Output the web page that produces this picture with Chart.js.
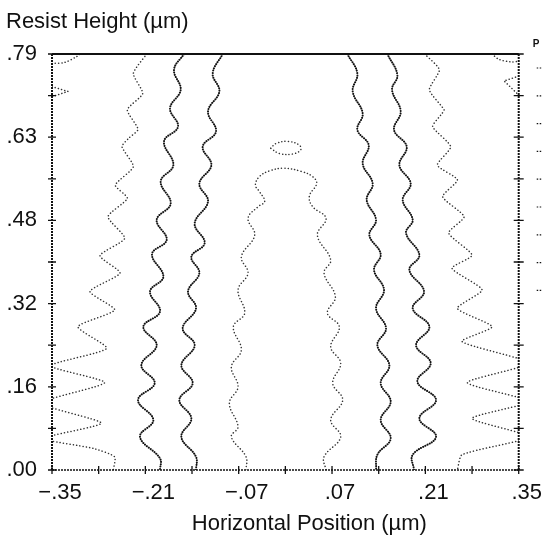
<!DOCTYPE html>
<html>
<head>
<meta charset="utf-8">
<script src="https://cdn.jsdelivr.net/npm/chart.js@4.4.1/dist/chart.umd.min.js"></script>
<style>
    html, body { margin: 0; padding: 0; background: #fff; }
</style>
</head>
<body>
<canvas id="myChart" width="544" height="541"></canvas>
<script>
// axis ticks (µm)
var xTickValues = [-0.35, -0.28, -0.21, -0.14, -0.07, 0, 0.07, 0.14, 0.21, 0.28, 0.35];
var xTickLabels = ['\u2212.35', '', '\u2212.21', '', '\u2212.07', '', '.07', '', '.21', '', '.35'];
var yTickValues = [0, 0.079, 0.158, 0.237, 0.316, 0.395, 0.474, 0.553, 0.632, 0.711, 0.79];
var yTickLabels = ['.00', '', '.16', '', '.32', '', '.48', '', '.63', '', '.79'];

// contour lines, [x, y] in µm
var cornerLeft = [[-0.35, 0.772], [-0.331, 0.774], [-0.313, 0.785], [-0.308, 0.79]];
var veeLeft = [[-0.35, 0.728], [-0.326, 0.719], [-0.35, 0.709]];
var contourA = [[-0.208, 0.79], [-0.228, 0.753], [-0.214, 0.715], [-0.237, 0.684], [-0.221, 0.647], [-0.235, 0.630],
    [-0.245, 0.614], [-0.228, 0.576], [-0.255, 0.541], [-0.237, 0.516], [-0.266, 0.481], [-0.241, 0.440], [-0.278, 0.407],
    [-0.248, 0.374], [-0.293, 0.339], [-0.256, 0.304], [-0.311, 0.272], [-0.268, 0.231], [-0.352, 0.198], [-0.271, 0.166],
    [-0.366, 0.127], [-0.276, 0.089], [-0.363, 0.060], [-0.288, 0.041], [-0.256, 0.025], [-0.258, 0]];
var contourB = [[-0.152, 0.79], [-0.167, 0.760], [-0.157, 0.722], [-0.173, 0.687], [-0.161, 0.652], [-0.182, 0.624],
    [-0.168, 0.579], [-0.187, 0.548], [-0.172, 0.506], [-0.193, 0.475], [-0.178, 0.437], [-0.200, 0.410], [-0.183, 0.367],
    [-0.203, 0.339], [-0.188, 0.301], [-0.213, 0.272], [-0.193, 0.237], [-0.216, 0.199], [-0.196, 0.165], [-0.221, 0.133],
    [-0.198, 0.095], [-0.218, 0.063], [-0.188, 0.022], [-0.188, 0]];
var contourC = [[-0.094, 0.79], [-0.109, 0.753], [-0.099, 0.719], [-0.116, 0.681], [-0.104, 0.643], [-0.124, 0.614],
    [-0.111, 0.579], [-0.129, 0.544], [-0.116, 0.510], [-0.136, 0.468], [-0.121, 0.431], [-0.141, 0.405], [-0.129, 0.374],
    [-0.146, 0.339], [-0.134, 0.307], [-0.154, 0.269], [-0.136, 0.237], [-0.156, 0.199], [-0.139, 0.165], [-0.159, 0.133],
    [-0.141, 0.098], [-0.156, 0.063], [-0.134, 0.025], [-0.134, 0]];
var contourDome = [[-0.059, 0], [-0.059, 0.025], [-0.081, 0.063], [-0.071, 0.082], [-0.084, 0.127], [-0.071, 0.158],
    [-0.081, 0.196], [-0.066, 0.228], [-0.078, 0.272], [-0.061, 0.298], [-0.071, 0.342], [-0.056, 0.374], [-0.066, 0.405],
    [-0.046, 0.446], [-0.056, 0.478], [-0.041, 0.500], [-0.031, 0.510], [-0.039, 0.529], [-0.045, 0.541], [-0.039, 0.557],
    [-0.024, 0.568], [-0.002, 0.573], [0.024, 0.567], [0.041, 0.557], [0.047, 0.544], [0.036, 0.520], [0.041, 0.500],
    [0.061, 0.478], [0.048, 0.446], [0.068, 0.399], [0.058, 0.374], [0.075, 0.329], [0.063, 0.298], [0.081, 0.272],
    [0.068, 0.234], [0.083, 0.203], [0.071, 0.165], [0.086, 0.133], [0.068, 0.095], [0.083, 0.063], [0.058, 0.025], [0.061, 0]];
var contourRing = [[-0.022, 0.611], [-0.014, 0.620], [0.004, 0.624], [0.021, 0.617], [0.023, 0.608], [0.011, 0.600],
    [-0.009, 0.601], [-0.022, 0.611]];
var contourF = [[0.093, 0.79], [0.108, 0.753], [0.101, 0.719], [0.116, 0.677], [0.108, 0.646], [0.125, 0.617],
    [0.116, 0.582], [0.131, 0.544], [0.122, 0.513], [0.136, 0.475], [0.126, 0.446], [0.143, 0.410], [0.133, 0.380],
    [0.148, 0.342], [0.136, 0.307], [0.151, 0.269], [0.138, 0.237], [0.156, 0.199], [0.143, 0.165], [0.158, 0.130],
    [0.143, 0.095], [0.158, 0.060], [0.138, 0.029], [0.136, 0]];
var contourG = [[0.153, 0.79], [0.168, 0.750], [0.160, 0.722], [0.173, 0.681], [0.163, 0.646], [0.182, 0.614],
    [0.171, 0.579], [0.188, 0.544], [0.176, 0.513], [0.191, 0.475], [0.181, 0.450], [0.201, 0.408], [0.186, 0.380],
    [0.208, 0.339], [0.191, 0.307], [0.216, 0.272], [0.196, 0.237], [0.218, 0.203], [0.198, 0.168], [0.226, 0.133],
    [0.201, 0.098], [0.226, 0.063], [0.191, 0.029], [0.193, 0]];
var contourH = [[0.209, 0.79], [0.231, 0.760], [0.216, 0.722], [0.238, 0.684], [0.233, 0.674], [0.221, 0.652],
    [0.248, 0.614], [0.228, 0.579], [0.258, 0.551], [0.236, 0.519], [0.268, 0.481], [0.245, 0.450], [0.280, 0.408],
    [0.250, 0.383], [0.295, 0.342], [0.258, 0.307], [0.310, 0.272], [0.265, 0.244], [0.365, 0.203], [0.273, 0.166],
    [0.365, 0.130], [0.280, 0.098], [0.365, 0.063], [0.265, 0.029], [0.258, 0]];
var cornerRight = [[0.310, 0.79], [0.320, 0.780], [0.338, 0.775], [0.35, 0.776]];
var veeRight = [[0.35, 0.748], [0.328, 0.739], [0.35, 0.712]];

function pts(arr) {
    return arr.map(function (p) { return { x: p[0], y: p[1] }; });
}
function darkLine(arr) {
    return { data: pts(arr), showLine: true, pointRadius: 0, borderColor: '#111', borderWidth: 2,
        borderDash: [0.1, 2.3], borderCapStyle: 'round', tension: 0.4 };
}
function lightLine(arr, t) {
    return { data: pts(arr), showLine: true, pointRadius: 0, borderColor: '#333', borderWidth: 1.5,
        borderDash: [0.1, 3.2], borderCapStyle: 'round', tension: t };
}

var FONT = '"Liberation Sans", Arial, sans-serif';

var framePlugin = {
    id: 'frame',
    afterDraw: function (chart) {
        var ctx = chart.ctx, a = chart.chartArea;
        var xs = chart.scales.x, ys = chart.scales.y;
        ctx.save();
        ctx.strokeStyle = '#111';
        ctx.lineWidth = 2;
        ctx.beginPath();
        ctx.moveTo(a.left, a.top); ctx.lineTo(a.right, a.top);
        ctx.stroke();
        ctx.setLineDash([2, 1]);
        ctx.beginPath();
        ctx.moveTo(a.left, a.top); ctx.lineTo(a.left, a.bottom);
        ctx.moveTo(a.right, a.top); ctx.lineTo(a.right, a.bottom);
        ctx.stroke();
        ctx.lineWidth = 1.6;
        ctx.beginPath();
        ctx.moveTo(a.left, a.bottom); ctx.lineTo(a.right, a.bottom);
        ctx.stroke();
        ctx.setLineDash([]);
        ctx.lineWidth = 1.3;
        ctx.beginPath();
        xTickValues.forEach(function (v) {
            var px = xs.getPixelForValue(v);
            ctx.moveTo(px, a.bottom - 4); ctx.lineTo(px, a.bottom + 4);
        });
        yTickValues.forEach(function (v) {
            var py = ys.getPixelForValue(v);
            ctx.moveTo(a.left - 4, py); ctx.lineTo(a.left + 4, py);
            ctx.moveTo(a.right - 5, py); ctx.lineTo(a.right + 5, py);
        });
        ctx.stroke();

        // axis titles
        ctx.fillStyle = '#111';
        ctx.font = '22px ' + FONT;
        ctx.textBaseline = 'middle';
        ctx.textAlign = 'left';
        ctx.fillText('Resist Height (\u00b5m)', 6, 22);
        ctx.textAlign = 'center';
        ctx.fillText('Horizontal Position (\u00b5m)', (a.left + a.right) / 2 + 24, 524);

        // cut-off legend at the right
        ctx.font = 'bold 10px ' + FONT;
        ctx.textAlign = 'left';
        ctx.fillText('P', a.right + 14, a.top - 10);
        ctx.lineWidth = 1.2;
        ctx.setLineDash([1.5, 1.5]);
        ctx.beginPath();
        for (var i = 0; i < 9; i++) {
            var ly = a.top + 14 + i * 27.8;
            ctx.moveTo(a.right + 18, ly); ctx.lineTo(a.right + 24, ly);
        }
        ctx.stroke();
        ctx.restore();
    }
};

var ctx = document.getElementById('myChart').getContext('2d');
var myChart = new Chart(ctx, {
    type: 'scatter',
    data: {
        datasets: [
            lightLine(cornerLeft, 0.3),
            lightLine(veeLeft, 0),
            lightLine(contourA, 0.2),
            darkLine(contourB),
            darkLine(contourC),
            lightLine(contourDome, 0.4),
            lightLine(contourRing, 0.4),
            darkLine(contourF),
            darkLine(contourG),
            lightLine(contourH, 0.2),
            lightLine(cornerRight, 0.3),
            lightLine(veeRight, 0)
        ]
    },
    options: {
        responsive: false,
        animation: false,
        layout: { padding: { left: 0, right: 24, top: 54, bottom: 0 } },
        plugins: {
            legend: { display: false },
            tooltip: { enabled: false },
            title: { display: false }
        },
        scales: {
            x: {
                type: 'linear',
                min: -0.35,
                max: 0.35,
                afterBuildTicks: function (s) { s.ticks = xTickValues.map(function (v) { return { value: v }; }); },
                afterFit: function (s) { s.height = 71; },
                grid: { display: false, drawTicks: false },
                border: { display: false },
                ticks: {
                    autoSkip: false,
                    maxRotation: 0,
                    padding: 10,
                    labelOffset: 8,
                    color: '#111',
                    font: { family: FONT, size: 22 },
                    callback: function (v, i) { return xTickLabels[i]; }
                }
            },
            y: {
                type: 'linear',
                min: 0,
                max: 0.79,
                afterBuildTicks: function (s) { s.ticks = yTickValues.map(function (v) { return { value: v }; }); },
                afterFit: function (s) { s.width = 52; },
                grid: { display: false, drawTicks: false },
                border: { display: false },
                ticks: {
                    autoSkip: false,
                    padding: 15,
                    color: '#111',
                    font: { family: FONT, size: 22 },
                    callback: function (v, i) { return yTickLabels[i]; }
                }
            }
        }
    },
    plugins: [framePlugin]
});
</script>
</body>
</html>
